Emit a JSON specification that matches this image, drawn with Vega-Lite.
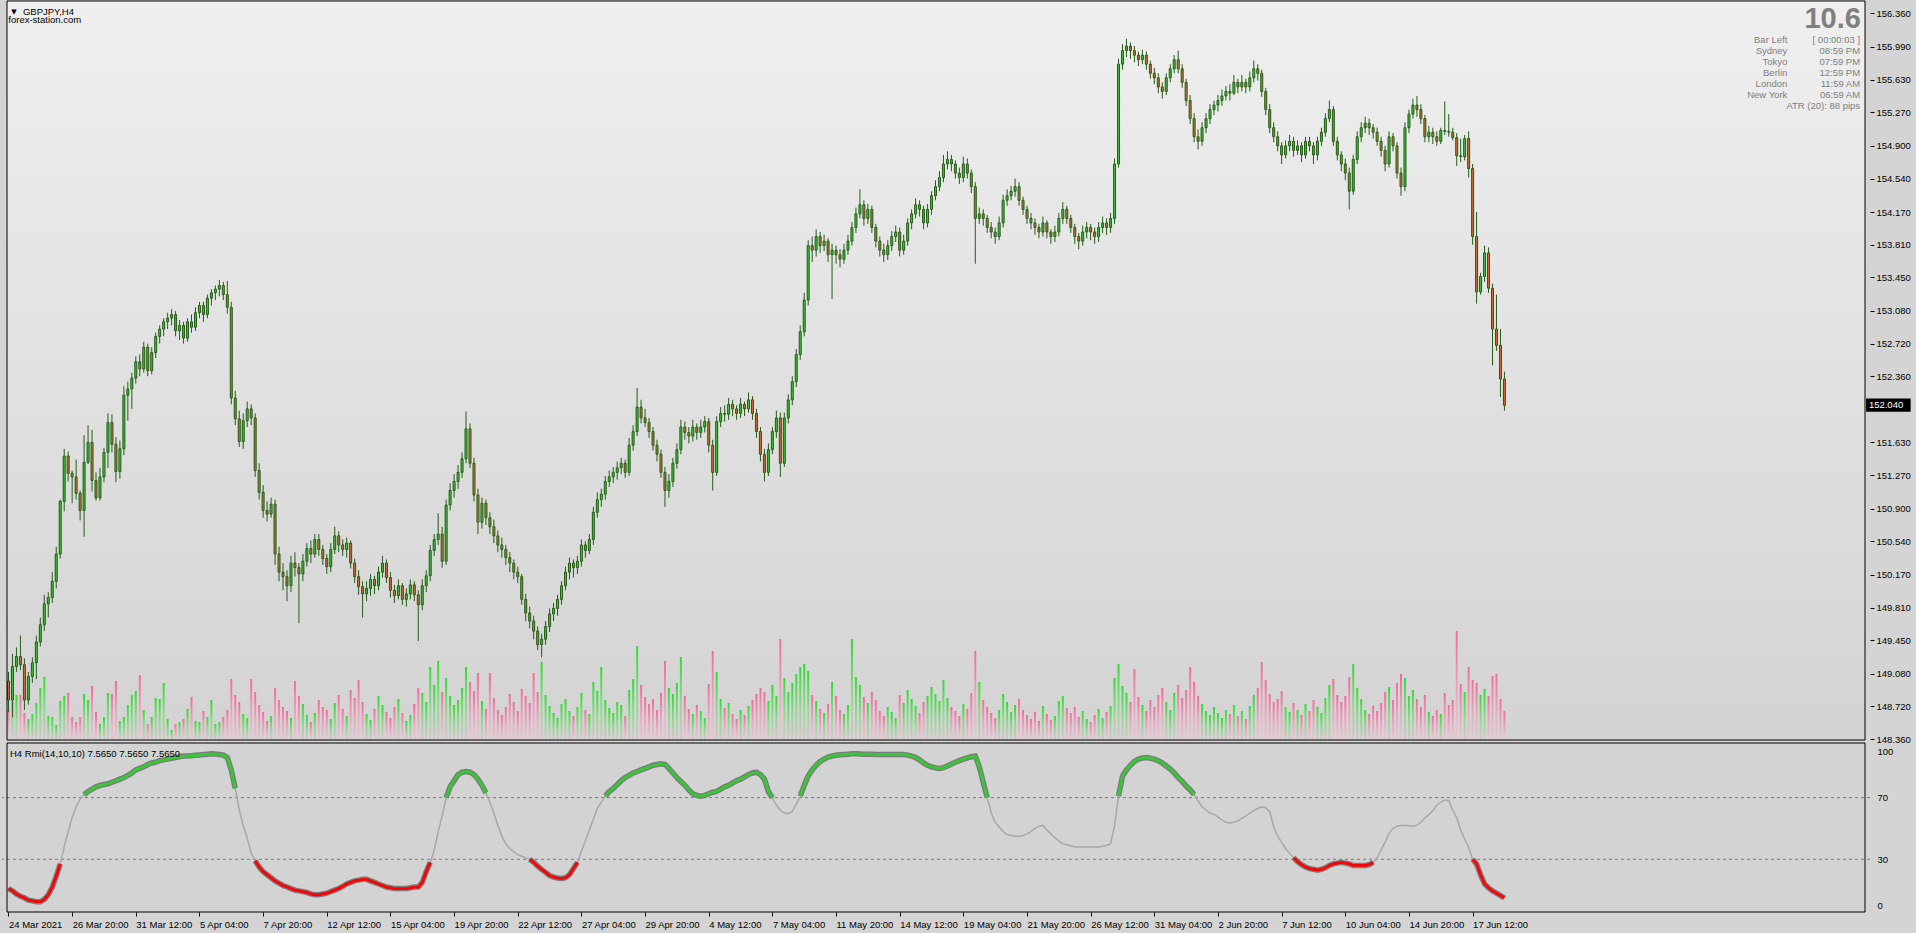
{
"$schema": "https://vega.github.io/schema/vega-lite/v6.json",
"background": "#d4d4d4",
"autosize": {"type": "none"},
"padding": {"left": 2, "top": 1, "right": 46, "bottom": 21},
"width": 1868,
"height": 911,
"config": {
  "view": {"stroke": null, "fill": null},
  "font": "Liberation Sans",
  "axis": {"labelFont": "Liberation Sans", "labelFontSize": 9.5, "labelColor": "#000000", "tickColor": "#000000", "domainColor": "#000000", "grid": false, "title": null}
},
"data": {
  "values": "i,o,h,l,c,v,r,z\n0,149.00,149.10,148.66,148.79,3000,11,r1\n1,148.79,149.30,148.60,149.16,3800,9.5,r1\n2,149.16,149.37,149.10,149.27,4500,7.5,r1\n3,149.27,149.50,149.12,149.18,4500,6,r1\n4,149.18,149.25,148.68,148.79,2700,5,r1\n5,148.79,149.10,148.74,149.05,2100,3.5,r1\n6,149.05,149.26,148.98,149.20,2600,3,r1\n7,149.20,149.50,149.02,149.43,3700,2.5,r1\n8,149.43,149.70,149.38,149.62,5200,2.5,r1\n9,149.62,149.95,149.55,149.85,6300,4,r1\n10,149.85,149.98,149.70,149.92,2400,7,r1\n11,149.92,150.20,149.86,150.10,2300,12,r1\n12,150.10,150.48,150.02,150.40,1500,19,r1\n13,150.40,151.00,150.35,150.98,3900,27,r1\n14,150.98,151.56,150.87,151.48,4400,38,n\n15,151.48,151.53,151.20,151.29,4700,48,n\n16,151.29,151.32,150.96,151.25,2300,57,n\n17,151.25,151.44,151.00,151.07,1800,64,n\n18,151.07,151.10,150.77,150.88,2300,69,n\n19,150.88,151.71,150.59,151.41,4600,72,g1\n20,151.41,151.82,151.39,151.63,4000,74,g1\n21,151.63,151.77,151.09,151.21,5400,75.5,g1\n22,151.21,151.30,150.99,151.02,2800,77,g1\n23,151.02,151.35,150.99,151.25,1600,78,g1\n24,151.25,151.57,151.19,151.52,2300,78.5,g1\n25,151.52,151.95,151.35,151.85,4700,79,g1\n26,151.85,151.94,151.52,151.61,4600,80,g1\n27,151.61,151.69,151.19,151.31,5900,81,g1\n28,151.31,151.65,151.23,151.56,1900,82,g1\n29,151.56,152.25,151.49,152.15,2300,83,g1\n30,152.15,152.30,151.87,152.22,3500,84.5,g1\n31,152.22,152.40,152.00,152.34,4500,86,g1\n32,152.34,152.58,152.28,152.52,4900,88,g1\n33,152.52,152.60,152.36,152.44,6500,89,g1\n34,152.44,152.74,152.40,152.68,3000,90,g1\n35,152.68,152.72,152.36,152.42,1600,91.5,g1\n36,152.42,152.68,152.38,152.62,2300,92.5,g1\n37,152.62,152.84,152.56,152.80,4200,93,g1\n38,152.80,152.92,152.72,152.88,4100,94,g1\n39,152.88,153.00,152.80,152.96,5700,94.5,g1\n40,152.96,153.06,152.88,153.00,2100,95,g1\n41,153.00,153.10,152.92,153.04,1000,95.5,g1\n42,153.04,153.08,152.80,152.86,1600,96,g1\n43,152.86,152.98,152.76,152.92,1800,96.5,g1\n44,152.92,152.96,152.72,152.78,2100,97,g1\n45,152.78,153.00,152.74,152.96,3100,97,g1\n46,152.96,153.04,152.84,152.90,4300,97.2,g1\n47,152.90,153.12,152.86,153.06,1900,97.5,g1\n48,153.06,153.18,153.00,153.14,1800,97.6,g1\n49,153.14,153.18,152.96,153.04,2900,98,g1\n50,153.04,153.26,153.00,153.22,2300,98.2,g1\n51,153.22,153.32,153.14,153.28,4000,98.4,g1\n52,153.28,153.36,153.20,153.32,1600,98.3,g1\n53,153.32,153.42,153.24,153.36,1800,98,g1\n54,153.36,153.40,153.20,153.26,2300,97.6,g1\n55,153.26,153.41,153.05,153.12,3000,96,g1\n56,153.12,153.18,152.05,152.12,6100,88,g1\n57,152.12,152.20,151.82,151.89,4500,76,g1\n58,151.89,151.98,151.58,151.64,3800,62,n\n59,151.64,151.95,151.56,151.87,2600,52,n\n60,151.87,152.08,151.80,152.00,2200,44,n\n61,152.00,152.05,151.82,151.90,6100,34,n\n62,151.90,151.95,151.25,151.32,4800,29,r2\n63,151.32,151.40,151.00,151.08,3500,25,r2\n64,151.08,151.16,150.80,150.88,2800,22,r2\n65,150.88,150.98,150.76,150.84,1900,20,r2\n66,150.84,151.02,150.80,150.95,2400,18,r2\n67,150.95,151.00,150.28,150.40,5200,16,r2\n68,150.40,150.48,150.10,150.20,4000,14.5,r2\n69,150.20,150.30,150.00,150.15,3300,13,r2\n70,150.15,150.22,149.88,150.05,2900,12,r2\n71,150.05,150.38,149.98,150.30,2200,11,r2\n72,150.30,150.42,150.15,150.25,5900,10,r2\n73,150.25,150.30,149.64,150.18,4400,9.5,r2\n74,150.18,150.40,150.10,150.32,3600,9,r2\n75,150.32,150.52,150.26,150.46,2500,8.5,r2\n76,150.46,150.55,150.30,150.40,1800,7.5,r2\n77,150.40,150.62,150.36,150.56,2700,7,r2\n78,150.56,150.62,150.38,150.45,4000,7,r2\n79,150.45,150.50,150.28,150.35,3300,7.5,r2\n80,150.35,150.40,150.18,150.26,3000,8,r2\n81,150.26,150.52,150.20,150.45,2100,9,r2\n82,150.45,150.70,150.40,150.60,3700,10,r2\n83,150.60,150.65,150.42,150.50,4500,11,r2\n84,150.50,150.56,150.38,150.45,3100,12.5,r2\n85,150.45,150.58,150.36,150.52,2400,14,r2\n86,150.52,150.55,150.24,150.30,5000,15,r2\n87,150.30,150.35,150.08,150.15,4200,16,r2\n88,150.15,150.22,149.95,150.04,6000,16.5,r2\n89,150.04,150.10,149.70,149.96,3800,17,r2\n90,149.96,150.10,149.88,150.02,2600,17,r2\n91,150.02,150.18,149.94,150.12,2000,16,r2\n92,150.12,150.16,149.96,150.05,3100,15,r2\n93,150.05,150.26,150.00,150.20,4400,14,r2\n94,150.20,150.38,150.14,150.30,3500,13,r2\n95,150.30,150.34,150.08,150.14,2800,12,r2\n96,150.14,150.20,149.92,150.00,2200,11.5,r2\n97,150.00,150.06,149.86,149.94,3300,11,r2\n98,149.94,150.12,149.90,150.05,4100,11,r2\n99,150.05,150.08,149.84,149.90,2700,11,r2\n100,149.90,150.02,149.82,149.96,1900,11,r2\n101,149.96,150.12,149.90,150.06,2500,11.5,r2\n102,150.06,150.10,149.88,149.95,3600,12,r2\n103,149.95,150.00,149.44,149.84,5200,12,r2\n104,149.84,150.12,149.78,150.05,4700,15,r2\n105,150.05,150.22,149.98,150.16,3800,22,r2\n106,150.16,150.50,150.10,150.44,7300,28,r2\n107,150.44,150.62,150.38,150.56,5500,36,n\n108,150.56,150.85,150.50,150.62,7900,48,n\n109,150.62,150.70,150.25,150.32,4800,58,n\n110,150.32,151.00,150.28,150.94,6200,70,g2\n111,150.94,151.18,150.88,151.10,4400,77,g2\n112,151.10,151.28,151.02,151.20,3500,81,g2\n113,151.20,151.38,151.12,151.30,4000,85,g2\n114,151.30,151.52,151.24,151.45,5200,86.5,g2\n115,151.45,151.97,151.40,151.78,7300,87,g2\n116,151.78,151.84,151.35,151.40,5800,86.5,g2\n117,151.40,151.46,150.98,151.05,4900,85,g2\n118,151.05,151.12,150.62,150.75,6700,82,g2\n119,150.75,151.02,150.68,150.96,3900,78,g2\n120,150.96,151.00,150.72,150.80,3100,73,g2\n121,150.80,150.86,150.62,150.70,6700,67,n\n122,150.70,150.78,150.52,150.60,4200,60,n\n123,150.60,150.66,150.42,150.50,3000,52,n\n124,150.50,150.58,150.36,150.45,2500,45,n\n125,150.45,150.50,150.28,150.36,3300,40,n\n126,150.36,150.42,150.20,150.30,4600,37,n\n127,150.30,150.34,150.12,150.20,3800,35,n\n128,150.20,150.26,150.08,150.15,2900,33,n\n129,150.15,150.18,149.84,149.90,5100,32,n\n130,149.90,149.96,149.66,149.75,4400,31,n\n131,149.75,149.82,149.58,149.66,3700,30,r3\n132,149.66,149.72,149.46,149.55,6700,28,r3\n133,149.55,149.60,149.34,149.40,4800,25.5,r3\n134,149.40,149.52,149.26,149.46,7800,23.5,r3\n135,149.46,149.66,149.40,149.60,4500,21.5,r3\n136,149.60,149.80,149.54,149.74,3400,19.5,r3\n137,149.74,149.86,149.66,149.80,2700,18.5,r3\n138,149.80,149.95,149.72,149.90,2200,17.8,r3\n139,149.90,150.10,149.84,150.05,3600,17.5,r3\n140,150.05,150.26,150.00,150.20,4100,18,r3\n141,150.20,150.36,150.12,150.30,2900,20,r3\n142,150.30,150.34,150.14,150.25,2400,24,r3\n143,150.25,150.38,150.18,150.32,3300,28,r3\n144,150.32,150.56,150.26,150.50,4700,35,n\n145,150.50,150.54,150.36,150.44,3000,42,n\n146,150.44,150.62,150.40,150.56,2600,49,n\n147,150.56,150.92,150.50,150.86,5800,56,n\n148,150.86,151.08,150.80,151.00,4900,63,n\n149,151.00,151.12,150.92,151.06,7300,67,n\n150,151.06,151.26,151.00,151.20,4000,71,g3\n151,151.20,151.32,151.14,151.25,3200,74,g3\n152,151.25,151.36,151.18,151.30,2700,76,g3\n153,151.30,151.42,151.22,151.35,3800,78.5,g3\n154,151.35,151.46,151.28,151.40,3500,81,g3\n155,151.40,151.44,151.24,151.30,2400,83,g3\n156,151.30,151.68,151.26,151.60,5000,84.5,g3\n157,151.60,151.82,151.54,151.75,6100,86,g3\n158,151.75,152.23,151.70,152.02,9400,87,g3\n159,152.02,152.10,151.84,151.90,5500,88,g3\n160,151.90,152.00,151.80,151.85,4300,89,g3\n161,151.85,151.90,151.68,151.75,3600,90,g3\n162,151.75,151.80,151.54,151.60,4100,91,g3\n163,151.60,151.66,151.42,151.50,3000,91.5,g3\n164,151.50,151.55,151.24,151.30,4700,92,g3\n165,151.30,151.36,150.92,151.10,7900,91.5,g3\n166,151.10,151.28,151.02,151.20,5200,89,g3\n167,151.20,151.46,151.14,151.40,4600,86,g3\n168,151.40,151.62,151.34,151.55,5700,83,g3\n169,151.55,151.88,151.50,151.80,8300,80.5,g3\n170,151.80,151.86,151.66,151.74,4400,78,g3\n171,151.74,151.80,151.62,151.70,3100,75,g3\n172,151.70,151.88,151.64,151.80,2600,72.5,g3\n173,151.80,151.84,151.66,151.74,3500,71.5,g3\n174,151.74,151.88,151.68,151.80,2900,71,g3\n175,151.80,151.92,151.74,151.86,2200,71.5,g3\n176,151.86,151.90,151.52,151.60,5600,72.5,g3\n177,151.60,151.66,151.10,151.30,8900,73.5,g3\n178,151.30,151.92,151.26,151.86,6800,74,g3\n179,151.86,152.02,151.80,151.95,4100,75.5,g3\n180,151.95,152.04,151.86,151.94,3200,77,g3\n181,151.94,152.12,151.88,152.05,3700,78,g3\n182,152.05,152.10,151.92,152.00,2600,79.5,g3\n183,152.00,152.04,151.88,151.95,2100,81,g3\n184,151.95,152.12,151.90,152.05,3000,82,g3\n185,152.05,152.08,151.92,152.00,2500,83.5,g3\n186,152.00,152.18,151.96,152.10,3400,85,g3\n187,152.10,152.14,151.88,151.95,4000,86,g3\n188,151.95,152.00,151.68,151.75,4600,86.5,g3\n189,151.75,151.80,151.42,151.50,5200,85,g3\n190,151.50,151.56,151.20,151.30,4800,82,g3\n191,151.30,151.62,151.26,151.55,3900,74,g3\n192,151.55,151.80,151.50,151.75,5500,70,g3\n193,151.75,151.98,151.68,151.90,4400,65,n\n194,151.90,151.96,151.25,151.40,10100,62,n\n195,151.40,151.96,151.36,151.90,6200,60,n\n196,151.90,152.16,151.84,152.10,4800,59.5,n\n197,152.10,152.36,152.04,152.30,5700,61,n\n198,152.30,152.66,152.24,152.60,6600,66,n\n199,152.60,152.92,152.54,152.85,7300,71,g4\n200,152.85,153.28,152.80,153.20,7600,78,g4\n201,153.20,153.86,153.14,153.80,6900,84,g4\n202,153.80,153.90,153.62,153.75,4500,88,g4\n203,153.75,153.98,153.68,153.90,3900,91,g4\n204,153.90,153.95,153.72,153.80,3100,93.5,g4\n205,153.80,153.92,153.74,153.85,2700,95,g4\n206,153.85,153.88,153.62,153.70,3600,96.3,g4\n207,153.70,153.82,153.21,153.75,5800,97,g4\n208,153.75,153.80,153.60,153.70,4400,97.5,g4\n209,153.70,153.76,153.56,153.65,3000,97.8,g4\n210,153.65,153.82,153.60,153.75,2600,98,g4\n211,153.75,153.92,153.70,153.85,3500,98.2,g4\n212,153.85,154.06,153.80,154.00,10100,98.4,g4\n213,154.00,154.22,153.94,154.15,6300,98.4,g4\n214,154.15,154.42,154.10,154.25,5500,98.3,g4\n215,154.25,154.30,154.02,154.10,4300,98.2,g4\n216,154.10,154.26,154.04,154.20,3700,98.2,g4\n217,154.20,154.24,153.94,154.00,4800,98.1,g4\n218,154.00,154.04,153.78,153.85,4000,98,g4\n219,153.85,153.90,153.68,153.75,2900,98,g4\n220,153.75,153.82,153.62,153.70,2400,98,g4\n221,153.70,153.86,153.64,153.80,3300,98,g4\n222,153.80,153.96,153.74,153.90,2800,98,g4\n223,153.90,154.02,153.84,153.95,2200,98,g4\n224,153.95,154.00,153.68,153.75,4500,98,g4\n225,153.75,153.92,153.70,153.85,3700,98,g4\n226,153.85,154.10,153.80,154.05,5000,97.6,g4\n227,154.05,154.20,153.98,154.15,4100,97,g4\n228,154.15,154.32,154.10,154.25,3400,96,g4\n229,154.25,154.30,154.12,154.20,2700,94.5,g4\n230,154.20,154.24,153.98,154.05,3800,92.5,g4\n231,154.05,154.26,154.00,154.20,4400,91,g4\n232,154.20,154.40,154.14,154.35,5300,90,g4\n233,154.35,154.52,154.30,154.45,4600,89.3,g4\n234,154.45,154.62,154.40,154.55,3900,89,g4\n235,154.55,154.80,154.50,154.70,6000,89.5,g4\n236,154.70,154.84,154.64,154.75,4200,90.5,g4\n237,154.75,154.80,154.62,154.70,3300,91.8,g4\n238,154.70,154.74,154.54,154.60,2900,93,g4\n239,154.60,154.66,154.48,154.55,2400,94,g4\n240,154.55,154.78,154.50,154.70,3600,95,g4\n241,154.70,154.76,154.54,154.60,3100,95.8,g4\n242,154.60,154.64,154.38,154.45,4700,96.5,g4\n243,154.45,154.50,153.60,154.10,8900,97,g4\n244,154.10,154.22,154.04,154.15,5800,90,g4\n245,154.15,154.20,154.02,154.10,4000,80,g4\n246,154.10,154.14,153.94,154.00,3300,70,g4\n247,154.00,154.06,153.88,153.95,2700,60,n\n248,153.95,154.00,153.82,153.90,2200,54,n\n249,153.90,154.12,153.86,154.05,3000,51,n\n250,154.05,154.36,154.00,154.30,4600,48,n\n251,154.30,154.42,154.24,154.35,3800,46,n\n252,154.35,154.46,154.30,154.40,2800,45.5,n\n253,154.40,154.54,154.34,154.45,3500,45,n\n254,154.45,154.50,154.24,154.30,4100,45,n\n255,154.30,154.34,154.14,154.20,3000,45.5,n\n256,154.20,154.24,154.04,154.10,2500,46.5,n\n257,154.10,154.16,153.98,154.05,2100,48,n\n258,154.05,154.10,153.92,154.00,2800,50,n\n259,154.00,154.04,153.88,153.95,1900,51.5,n\n260,153.95,154.12,153.90,154.05,3400,52,n\n261,154.05,154.08,153.88,153.95,2600,49,n\n262,153.95,153.98,153.82,153.90,2000,46.5,n\n263,153.90,154.02,153.84,153.95,2400,44,n\n264,153.95,154.16,153.90,154.10,3900,42,n\n265,154.10,154.28,154.04,154.20,4400,40,n\n266,154.20,154.24,154.04,154.10,3200,39.5,n\n267,154.10,154.14,153.94,154.00,2700,38.8,n\n268,154.00,154.04,153.82,153.90,3300,38,n\n269,153.90,153.94,153.76,153.85,2300,38,n\n270,153.85,154.02,153.80,153.95,2900,38,n\n271,153.95,154.06,153.88,154.00,2100,38,n\n272,154.00,154.04,153.86,153.95,1800,38,n\n273,153.95,154.00,153.82,153.90,2500,38,n\n274,153.90,154.06,153.84,154.00,3100,38,n\n275,154.00,154.12,153.94,154.05,2200,38.5,n\n276,154.05,154.10,153.92,154.00,2800,39,n\n277,154.00,154.16,153.94,154.10,3400,40,n\n278,154.10,154.76,154.04,154.70,6200,52,n\n279,154.70,155.86,154.66,155.80,7600,71,g5\n280,155.80,156.02,155.74,155.95,5400,84,g5\n281,155.95,156.08,155.88,156.00,4700,88,g5\n282,156.00,156.04,155.86,155.95,3800,91,g5\n283,155.95,156.00,155.82,155.90,7100,93.5,g5\n284,155.90,155.94,155.78,155.85,4300,95,g5\n285,155.85,155.96,155.80,155.90,3500,95.7,g5\n286,155.90,155.94,155.74,155.80,2900,96,g5\n287,155.80,155.84,155.64,155.70,4000,95.6,g5\n288,155.70,155.76,155.58,155.65,3300,95,g5\n289,155.65,155.70,155.48,155.55,4500,94,g5\n290,155.55,155.60,155.42,155.50,5200,92.5,g5\n291,155.50,155.70,155.46,155.65,3800,90.5,g5\n292,155.65,155.80,155.60,155.75,3000,88.5,g5\n293,155.75,155.90,155.70,155.85,4700,86,g5\n294,155.85,155.95,155.70,155.75,5500,83,g5\n295,155.75,155.80,155.54,155.60,4200,80.5,g5\n296,155.60,155.64,155.34,155.40,5000,77.5,g5\n297,155.40,155.46,155.14,155.20,7300,75,g5\n298,155.20,155.26,154.94,155.00,5800,72,g5\n299,155.00,155.08,154.86,154.95,4400,68,n\n300,154.95,155.16,154.90,155.10,3600,64,n\n301,155.10,155.26,155.04,155.20,2900,62,n\n302,155.20,155.36,155.14,155.30,2500,60,n\n303,155.30,155.40,155.24,155.35,3300,59,n\n304,155.35,155.46,155.28,155.40,2700,57.5,n\n305,155.40,155.52,155.34,155.45,2200,55.5,n\n306,155.45,155.56,155.40,155.50,3000,54,n\n307,155.50,155.58,155.40,155.48,2600,53.5,n\n308,155.48,155.68,155.46,155.60,3500,54,n\n309,155.60,155.64,155.48,155.55,2400,55,n\n310,155.55,155.68,155.50,155.60,2900,56.5,n\n311,155.60,155.64,155.48,155.55,2100,58,n\n312,155.55,155.72,155.50,155.65,3400,60,n\n313,155.65,155.84,155.60,155.75,4500,61.5,n\n314,155.75,155.80,155.62,155.70,5200,63,n\n315,155.70,155.74,155.44,155.50,7800,64,n\n316,155.50,155.54,155.24,155.30,6000,63.5,n\n317,155.30,155.36,155.04,155.10,4600,61,n\n318,155.10,155.16,154.94,155.00,3800,51,n\n319,155.00,155.06,154.84,154.90,4100,45,n\n320,154.90,154.94,154.70,154.80,4900,41,n\n321,154.80,154.96,154.76,154.90,3300,37,n\n322,154.90,155.02,154.84,154.95,2800,34,n\n323,154.95,155.00,154.78,154.85,3700,31,r4\n324,154.85,154.96,154.80,154.90,3000,28.5,r4\n325,154.90,154.94,154.72,154.80,2500,26.5,r4\n326,154.80,155.00,154.76,154.95,3600,25,r4\n327,154.95,155.00,154.84,154.90,2900,24,r4\n328,154.90,154.94,154.70,154.80,4000,23.5,r4\n329,154.80,155.00,154.74,154.95,3300,23,r4\n330,154.95,155.10,154.90,155.05,2700,23.5,r4\n331,155.05,155.26,155.00,155.20,4200,24.5,r4\n332,155.20,155.40,155.16,155.30,5500,26,r4\n333,155.30,155.34,154.90,154.95,6100,27,r4\n334,154.95,155.00,154.74,154.80,4500,27.5,r4\n335,154.80,154.84,154.62,154.70,3800,28,r4\n336,154.70,154.76,154.52,154.60,4400,27.5,r4\n337,154.60,154.66,154.20,154.40,6300,27,r4\n338,154.40,154.80,154.36,154.75,7600,26,r4\n339,154.75,155.06,154.70,155.00,5200,26,r4\n340,155.00,155.16,154.94,155.10,4100,26,r4\n341,155.10,155.22,155.04,155.15,3000,26,r4\n342,155.15,155.20,155.02,155.10,2600,26.5,r4\n343,155.10,155.14,154.98,155.05,3400,28,r4\n344,155.05,155.10,154.90,154.95,2900,31,n\n345,154.95,155.00,154.78,154.85,3700,36,n\n346,154.85,154.90,154.62,154.70,4800,41,n\n347,154.70,155.06,154.66,155.00,5300,47,n\n348,155.00,155.04,154.84,154.90,4000,50,n\n349,154.90,154.94,154.54,154.60,5700,51.5,n\n350,154.60,154.66,154.35,154.45,6600,52,n\n351,154.45,155.16,154.40,155.10,6200,52,n\n352,155.10,155.30,155.04,155.25,4400,51.8,n\n353,155.25,155.42,155.20,155.35,5000,51.5,n\n354,155.35,155.45,155.22,155.30,4100,52,n\n355,155.30,155.36,155.14,155.20,3300,54,n\n356,155.20,155.24,154.94,155.00,4500,57,n\n357,155.00,155.12,154.94,155.05,2800,59,n\n358,155.05,155.10,154.92,155.00,2400,61.5,n\n359,155.00,155.06,154.90,154.95,3000,65,n\n360,154.95,155.10,154.92,155.07,2600,67,n\n361,155.07,155.39,155.02,155.06,4700,68.5,n\n362,155.06,155.25,155.00,155.05,3500,68,n\n363,155.05,155.10,154.96,154.99,4000,62,n\n364,154.99,155.04,154.68,154.79,10900,57,n\n365,154.79,154.98,154.72,154.78,5600,49,n\n366,154.78,155.02,154.74,154.98,4800,43,n\n367,154.98,155.06,154.55,154.65,7300,38,n\n368,154.65,154.70,153.81,153.90,6000,30,r5\n369,153.90,154.17,153.16,153.29,5700,27,r5\n370,153.29,153.50,153.26,153.46,4500,20,r5\n371,153.46,153.80,153.40,153.72,5100,14,r5\n372,153.72,153.78,153.28,153.33,4400,11.5,r5\n373,153.33,153.38,152.48,152.88,6400,9.5,r5\n374,152.88,153.26,152.64,152.70,6600,8,r5\n375,152.70,152.88,152.13,152.33,4100,6.5,r5\n376,152.33,152.41,151.98,152.04,2900,5,r5",
  "format": {"type": "csv", "parse": {"i": "number", "o": "number", "h": "number", "l": "number", "c": "number", "v": "number", "r": "number", "z": "string"}}
},
"resolve": {"scale": {"y": "independent"}},
"layer": [
  {
    "data": {"values": [{}]},
    "mark": {"type": "rect", "color": {"gradient": "linear", "x1": 0, "y1": 0, "x2": 0, "y2": 1, "stops": [{"offset": 0, "color": "#efefef"}, {"offset": 1, "color": "#d3d3d3"}]}},
    "encoding": {
      "x": {"datum": -0.375, "type": "quantitative", "scale": {"domain": [-0.375, 466.625], "nice": false, "zero": false}},
      "x2": {"datum": 466.625},
      "y": {"datum": 156.497, "type": "quantitative", "scale": {"domain": [146.453, 156.497], "nice": false, "zero": false},
            "axis": {"orient": "right", "values": [156.36, 155.99, 155.63, 155.27, 154.9, 154.54, 154.17, 153.81, 153.45, 153.08, 152.72, 152.36, 151.63, 151.27, 150.9, 150.54, 150.17, 149.81, 149.45, 149.08, 148.72, 148.36], "format": ".3f", "tickSize": 4, "labelPadding": 2, "domain": false, "labelOverlap": false, "labelBound": false, "labelFlush": false}},
      "y2": {"datum": 148.349}
    }
  },
  {
    "data": {"values": [{}]},
    "mark": {"type": "rect", "color": "#d3d3d3"},
    "encoding": {
      "x": {"datum": -0.375, "type": "quantitative", "scale": {"domain": [-0.375, 466.625], "nice": false, "zero": false}},
      "x2": {"datum": 466.625},
      "y": {"datum": 105.45, "type": "quantitative", "scale": {"domain": [-4.2, 586.9], "nice": false, "zero": false},
            "axis": {"orient": "right", "values": [0, 30, 70, 100], "ticks": false, "domain": false, "labelPadding": 7, "labelOverlap": false, "labelBound": false, "labelFlush": false}},
      "y2": {"datum": -4.2}
    }
  },
  {
    "transform": [{"filter": "datum.c >= datum.o"}],
    "mark": {"type": "bar", "size": 2, "orient": "vertical", "color": {"gradient": "linear", "x1": 0, "y1": 0, "x2": 0, "y2": 1, "stops": [{"offset": 0, "color": "#2fdc2f"}, {"offset": 0.55, "color": "#8fd98f"}, {"offset": 1, "color": "#d8c6cc"}]}},
    "encoding": {
      "x": {"field": "i", "type": "quantitative", "scale": {"domain": [-0.375, 466.625], "nice": false, "zero": false}},
      "y": {"field": "v", "type": "quantitative", "scale": {"domain": [-17200, 73900], "nice": false, "zero": false}, "axis": null},
      "y2": {"datum": 0}
    }
  },
  {
    "transform": [{"filter": "datum.c < datum.o"}],
    "mark": {"type": "bar", "size": 2, "orient": "vertical", "color": {"gradient": "linear", "x1": 0, "y1": 0, "x2": 0, "y2": 1, "stops": [{"offset": 0, "color": "#f06c9a"}, {"offset": 0.55, "color": "#eba6bf"}, {"offset": 1, "color": "#e6cad3"}]}},
    "encoding": {
      "x": {"field": "i", "type": "quantitative", "scale": {"domain": [-0.375, 466.625], "nice": false, "zero": false}},
      "y": {"field": "v", "type": "quantitative", "scale": {"domain": [-17200, 73900], "nice": false, "zero": false}, "axis": null},
      "y2": {"datum": 0}
    }
  },
  {
    "mark": {"type": "rule", "color": "#235e16", "strokeWidth": 1},
    "encoding": {
      "x": {"field": "i", "type": "quantitative", "scale": {"domain": [-0.375, 466.625], "nice": false, "zero": false}},
      "y": {"field": "l", "type": "quantitative", "scale": {"domain": [146.453, 156.497], "nice": false, "zero": false}, "axis": null},
      "y2": {"field": "h"}
    }
  },
  {
    "transform": [{"filter": "datum.c >= datum.o"}],
    "mark": {"type": "bar", "size": 2, "orient": "vertical", "fill": "#3fbf3f", "stroke": "#235e16", "strokeWidth": 1},
    "encoding": {
      "x": {"field": "i", "type": "quantitative", "scale": {"domain": [-0.375, 466.625], "nice": false, "zero": false}},
      "y": {"field": "o", "type": "quantitative", "scale": {"domain": [146.453, 156.497], "nice": false, "zero": false}, "axis": null},
      "y2": {"field": "c"}
    }
  },
  {
    "transform": [{"filter": "datum.c < datum.o"}],
    "mark": {"type": "bar", "size": 2, "orient": "vertical", "fill": "#cc6a3c", "stroke": "#235e16", "strokeWidth": 1},
    "encoding": {
      "x": {"field": "i", "type": "quantitative", "scale": {"domain": [-0.375, 466.625], "nice": false, "zero": false}},
      "y": {"field": "o", "type": "quantitative", "scale": {"domain": [146.453, 156.497], "nice": false, "zero": false}, "axis": null},
      "y2": {"field": "c"}
    }
  },
  {
    "data": {"values": [{}]},
    "mark": {"type": "rect", "color": "#000000"},
    "encoding": {
      "x": {"datum": 466.9, "type": "quantitative", "scale": {"domain": [-0.375, 466.625], "nice": false, "zero": false}},
      "x2": {"datum": 478.1},
      "y": {"datum": 152.114, "type": "quantitative", "scale": {"domain": [146.453, 156.497], "nice": false, "zero": false}, "axis": null},
      "y2": {"datum": 151.968}
    }
  },
  {
    "data": {"values": [{"price": "152.040"}]},
    "mark": {"type": "text", "align": "left", "baseline": "middle", "color": "#ffffff", "font": "Liberation Sans", "fontSize": 9.5},
    "encoding": {
      "text": {"field": "price", "type": "nominal"},
      "x": {"datum": 467.6, "type": "quantitative", "scale": {"domain": [-0.375, 466.625], "nice": false, "zero": false}},
      "y": {"datum": 152.04, "type": "quantitative", "scale": {"domain": [146.453, 156.497], "nice": false, "zero": false}, "axis": null}
    }
  },
  {
    "data": {"values": [{}]},
    "mark": {"type": "text", "text": "▼", "align": "center", "baseline": "middle", "color": "#000000", "font": "DejaVu Sans", "fontSize": 7},
    "encoding": {
      "x": {"datum": 1.375, "type": "quantitative", "scale": {"domain": [-0.375, 466.625], "nice": false, "zero": false}},
      "y": {"datum": 156.381, "type": "quantitative", "scale": {"domain": [146.453, 156.497], "nice": false, "zero": false}, "axis": null}
    }
  },
  {
    "data": {"values": [{}]},
    "mark": {"type": "text", "text": "GBPJPY,H4", "align": "left", "baseline": "middle", "color": "#000000", "font": "Liberation Sans", "fontSize": 9.5},
    "encoding": {
      "x": {"datum": 3.625, "type": "quantitative", "scale": {"domain": [-0.375, 466.625], "nice": false, "zero": false}},
      "y": {"datum": 156.381, "type": "quantitative", "scale": {"domain": [146.453, 156.497], "nice": false, "zero": false}, "axis": null}
    }
  },
  {
    "data": {"values": [{}]},
    "mark": {"type": "text", "text": "forex-station.com", "align": "left", "baseline": "middle", "color": "#000000", "font": "Liberation Sans", "fontSize": 9.5},
    "encoding": {
      "x": {"datum": -0.05, "type": "quantitative", "scale": {"domain": [-0.375, 466.625], "nice": false, "zero": false}},
      "y": {"datum": 156.293, "type": "quantitative", "scale": {"domain": [146.453, 156.497], "nice": false, "zero": false}, "axis": null}
    }
  },
  {
    "data": {"values": [{}]},
    "mark": {"type": "text", "text": "10.6", "align": "right", "baseline": "middle", "color": "#808080", "font": "Liberation Sans", "fontWeight": "bold", "fontSize": 29},
    "encoding": {
      "x": {"datum": 465.6, "type": "quantitative", "scale": {"domain": [-0.375, 466.625], "nice": false, "zero": false}},
      "y": {"datum": 156.298, "type": "quantitative", "scale": {"domain": [146.453, 156.497], "nice": false, "zero": false}, "axis": null}
    }
  },
  {
    "data": {"values": [{}]},
    "mark": {"type": "text", "text": ["Bar Left", "Sydney", "Tokyo", "Berlin", "London", "New York"], "align": "right", "baseline": "top", "lineHeight": 11, "color": "#808080", "font": "Liberation Sans", "fontSize": 9.5},
    "encoding": {
      "x": {"datum": 447.1, "type": "quantitative", "scale": {"domain": [-0.375, 466.625], "nice": false, "zero": false}},
      "y": {"datum": 156.127, "type": "quantitative", "scale": {"domain": [146.453, 156.497], "nice": false, "zero": false}, "axis": null}
    }
  },
  {
    "data": {"values": [{}]},
    "mark": {"type": "text", "text": ["[ 00:00:03 ]", "08:59 PM", "07:59 PM", "12:59 PM", "11:59 AM", "06:59 AM", "ATR (20): 88 pips"], "align": "right", "baseline": "top", "lineHeight": 11, "color": "#808080", "font": "Liberation Sans", "fontSize": 9.5},
    "encoding": {
      "x": {"datum": 465.4, "type": "quantitative", "scale": {"domain": [-0.375, 466.625], "nice": false, "zero": false}},
      "y": {"datum": 156.127, "type": "quantitative", "scale": {"domain": [146.453, 156.497], "nice": false, "zero": false}, "axis": null}
    }
  },
  {
    "data": {"values": [{}]},
    "mark": {"type": "rect", "filled": false, "color": "#000000", "strokeWidth": 1},
    "encoding": {
      "x": {"datum": -0.375, "type": "quantitative", "scale": {"domain": [-0.375, 466.625], "nice": false, "zero": false}},
      "x2": {"datum": 466.625},
      "y": {"datum": 156.497, "type": "quantitative", "scale": {"domain": [146.453, 156.497], "nice": false, "zero": false}, "axis": null},
      "y2": {"datum": 148.349}
    }
  },
  {
    "data": {"values": [{"level": 70}, {"level": 30}]},
    "mark": {"type": "rule", "color": "#7a7a7a", "strokeDash": [3, 3], "strokeWidth": 1},
    "encoding": {
      "y": {"field": "level", "type": "quantitative", "scale": {"domain": [-4.2, 586.9], "nice": false, "zero": false}, "axis": null}
    }
  },
  {
    "mark": {"type": "line", "color": "#a8a8a8", "strokeWidth": 1.5},
    "encoding": {
      "x": {"field": "i", "type": "quantitative", "scale": {"domain": [-0.375, 466.625], "nice": false, "zero": false},
            "axis": {"orient": "bottom", "values": [0, 16, 32, 48, 64, 80, 96, 112, 128, 144, 160, 176, 192, 208, 224, 240, 256, 272, 288, 304, 320, 336, 352, 368],
                     "labelExpr": "['24 Mar 2021','26 Mar 20:00','31 Mar 12:00','5 Apr 04:00','7 Apr 20:00','12 Apr 12:00','15 Apr 04:00','19 Apr 20:00','22 Apr 12:00','27 Apr 04:00','29 Apr 20:00','4 May 12:00','7 May 04:00','11 May 20:00','14 May 12:00','19 May 04:00','21 May 20:00','26 May 12:00','31 May 04:00','2 Jun 20:00','7 Jun 12:00','10 Jun 04:00','14 Jun 20:00','17 Jun 12:00'][round(datum.value/16)]",
                     "labelAlign": "left", "labelBaseline": "top", "labelPadding": 3, "tickSize": 4, "domain": false, "labelOverlap": false, "labelBound": false, "labelFlush": false}},
      "y": {"field": "r", "type": "quantitative", "scale": {"domain": [-4.2, 586.9], "nice": false, "zero": false}, "axis": null}
    }
  },
  {
    "transform": [{"filter": "datum.z != 'n'"}],
    "mark": {"type": "line", "color": "#7c7c7c", "strokeWidth": 5.5},
    "encoding": {
      "x": {"field": "i", "type": "quantitative", "scale": {"domain": [-0.375, 466.625], "nice": false, "zero": false}},
      "y": {"field": "r", "type": "quantitative", "scale": {"domain": [-4.2, 586.9], "nice": false, "zero": false}, "axis": null},
      "detail": {"field": "z", "type": "nominal"}
    }
  },
  {
    "transform": [{"filter": "substring(datum.z, 0, 1) == 'g'"}],
    "mark": {"type": "line", "color": "#35c935", "strokeWidth": 2.8},
    "encoding": {
      "x": {"field": "i", "type": "quantitative", "scale": {"domain": [-0.375, 466.625], "nice": false, "zero": false}},
      "y": {"field": "r", "type": "quantitative", "scale": {"domain": [-4.2, 586.9], "nice": false, "zero": false}, "axis": null},
      "detail": {"field": "z", "type": "nominal"}
    }
  },
  {
    "transform": [{"filter": "substring(datum.z, 0, 1) == 'r'"}],
    "mark": {"type": "line", "color": "#ff0000", "strokeWidth": 2.8},
    "encoding": {
      "x": {"field": "i", "type": "quantitative", "scale": {"domain": [-0.375, 466.625], "nice": false, "zero": false}},
      "y": {"field": "r", "type": "quantitative", "scale": {"domain": [-4.2, 586.9], "nice": false, "zero": false}, "axis": null},
      "detail": {"field": "z", "type": "nominal"}
    }
  },
  {
    "data": {"values": [{}]},
    "mark": {"type": "text", "text": "H4 Rmi(14,10,10) 7.5650 7.5650 7.5650", "align": "left", "baseline": "middle", "color": "#000000", "font": "Liberation Sans", "fontSize": 9.5},
    "encoding": {
      "x": {"datum": 0.375, "type": "quantitative", "scale": {"domain": [-0.375, 466.625], "nice": false, "zero": false}},
      "y": {"datum": 98.0, "type": "quantitative", "scale": {"domain": [-4.2, 586.9], "nice": false, "zero": false}, "axis": null}
    }
  },
  {
    "data": {"values": [{}]},
    "mark": {"type": "rect", "filled": false, "color": "#000000", "strokeWidth": 1},
    "encoding": {
      "x": {"datum": -0.375, "type": "quantitative", "scale": {"domain": [-0.375, 466.625], "nice": false, "zero": false}},
      "x2": {"datum": 466.625},
      "y": {"datum": 105.45, "type": "quantitative", "scale": {"domain": [-4.2, 586.9], "nice": false, "zero": false}, "axis": null},
      "y2": {"datum": -4.2}
    }
  }
]
}
